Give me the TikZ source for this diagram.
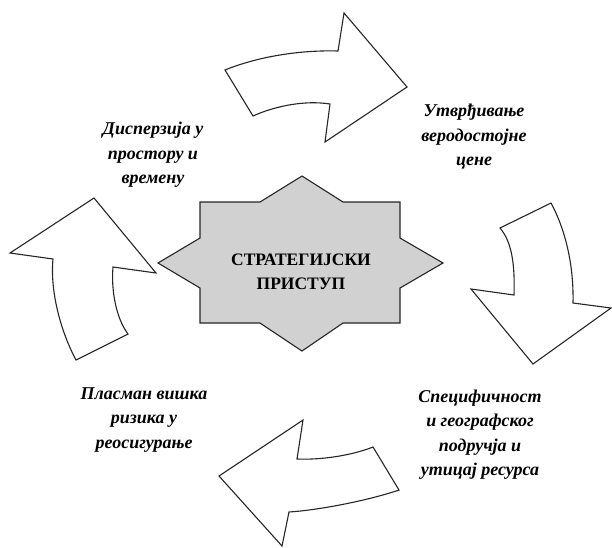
\documentclass[tikz,border=0pt]{standalone}
\usepackage{fontspec}
\setmainfont[Script=Cyrillic,Language=Serbian]{Liberation Serif}
\begin{document}
\begin{tikzpicture}[x=1pt,y=-1pt,
  blockarrow/.style={draw=black!85,line width=1.1pt,fill=white,line join=miter},
  starshape/.style={draw=black!85,line width=1.1pt,fill=black!18,line join=miter},
  label/.style={align=center,font=\fontsize{18}{24.5}\selectfont\bfseries\itshape},
  title/.style={align=center,font=\fontsize{17.5}{23.5}\selectfont\bfseries}]
\useasboundingbox (0,0) rectangle (612,547);

% central eight-pointed star
\draw[starshape] (200,202) -- (260,202) -- (302,176) -- (343,202) -- (400,202)
  -- (400,238) -- (443,263) -- (400,288) -- (400,323) -- (343,323) -- (302,351)
  -- (260,323) -- (200,323) -- (200,288) -- (158,263) -- (200,238) -- cycle;
\node[title] (centre) at (301,272) {СТРАТЕГИЈСКИ\\ПРИСТУП};

% top arrow, pointing right
\draw[blockarrow] (225,70) .. controls (262,55) and (305,50) .. (338,51)
  -- (344,13) -- (407,87) -- (325,142) -- (330,104)
  .. controls (305,100) and (275,106) .. (253,116) -- cycle;

% right arrow, pointing down
\draw[blockarrow] (500,228) -- (551,203)
  .. controls (563,225) and (574,260) .. (573,303)
  -- (611,308) -- (533,364) -- (471,289) -- (514,295)
  .. controls (515,265) and (512,242) .. (500,228) -- cycle;

% bottom arrow, pointing left
\draw[blockarrow] (303,420) -- (297,459)
  .. controls (320,460) and (350,456) .. (373,447)
  -- (399,490) .. controls (370,500) and (320,510) .. (289,512)
  -- (282,546) -- (219,476) -- cycle;

% left arrow, pointing up
\draw[blockarrow] (94,198) -- (156,273) -- (113,267)
  .. controls (111,290) and (116,318) .. (128,334)
  -- (76,360) .. controls (60,330) and (50,290) .. (53,259)
  -- (10,253) -- cycle;

% labels
\node[label] (disp) at (153,155) {Дисперзија у\\простору и\\времену};
\node[label] (price) at (474,137) {Утврђивање\\веродостојне\\цене};
\node[label] (spec) at (480,434.5) {Специфичност\\и географског\\подручја и\\утицај ресурса};
\node[label] (plac) at (144,420) {Пласман вишка\\ризика у\\реосигурање};
\end{tikzpicture}
\end{document}
